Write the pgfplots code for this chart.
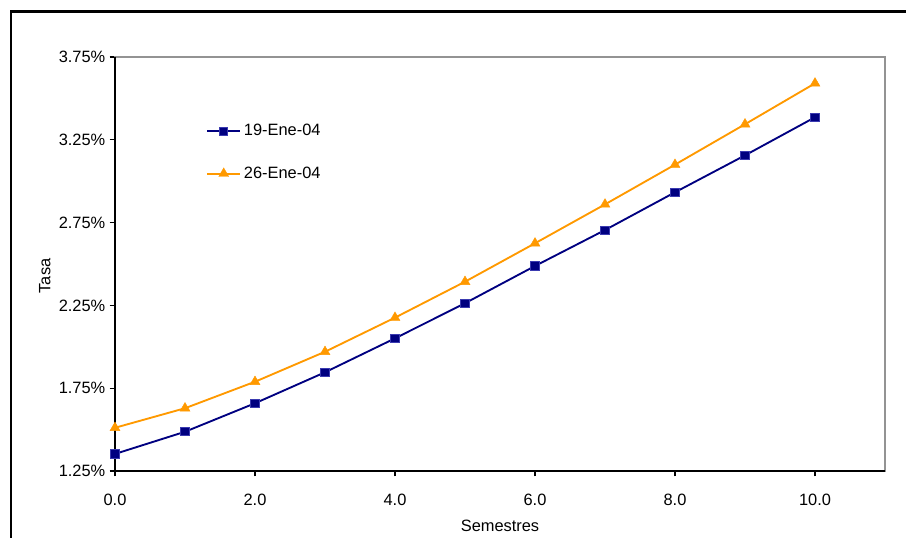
\documentclass[border=0pt]{standalone}
\usepackage{pgfplots}
\pgfplotsset{compat=1.18}
\usepackage{fontspec}
\setmainfont{Liberation Sans}
\definecolor{serieA}{HTML}{000080}
\definecolor{serieAedge}{HTML}{3A3AB0}
\definecolor{serieB}{HTML}{FF9900}

\pgfplotstableread{
x   y
0   1.353
1   1.487
2   1.659
3   1.846
4   2.051
5   2.263
6   2.488
7   2.705
8   2.933
9   3.156
10  3.386
}\tasaA

\pgfplotstableread{
x   y
0   1.511
1   1.629
2   1.789
3   1.970
4   2.176
5   2.393
6   2.625
7   2.860
8   3.100
9   3.344
10  3.591
}\tasaB

\begin{document}
\fontsize{12.3pt}{14pt}\selectfont
\begin{tikzpicture}[x=0.75pt,y=0.75pt]
\useasboundingbox (0,0) rectangle (906,538);
% outer chart frame
\draw[line width=1.6pt,black] (11,0) -- (11,526.5) -- (906,526.5);
\begin{axis}[
  at={(86.25pt,50.25pt)}, anchor=south west,
  scale only axis, width=577.5pt, height=310.5pt,
  xmin=0, xmax=11, ymin=1.25, ymax=3.75,
  xtick={0,2,...,10}, ytick={1.25,1.75,...,3.75},
  xtick pos=bottom, ytick pos=left,
  tick align=outside, major tick length=4pt,
  tick style={black, line width=1pt},
  axis line style={draw=gray!85, line width=1.1pt},
  /pgf/number format/assume math mode=true,
  xticklabel={\pgfmathprintnumber[fixed,fixed zerofill,precision=1]{\tick}},
  yticklabel={\pgfmathprintnumber[fixed,fixed zerofill,precision=2]{\tick}\%},
  xticklabel style={yshift=-9pt},
  yticklabel style={xshift=1pt},
  xlabel={Semestres}, ylabel={Tasa},
  xlabel style={at={(axis description cs:0.5,0)}, anchor=center, yshift=-41.5pt},
  ylabel style={at={(axis description cs:-0.091,0.471)}, anchor=center},
  legend style={draw=none, fill=none, at={(axis description cs:0.118,0.845)},
    anchor=north west, inner xsep=0pt, inner ysep=0pt, row sep=17.5pt,
    cells={anchor=west}, font=\fontsize{12.3pt}{14pt}\selectfont},
  legend image code/.code={%
    \draw[mark repeat=2,mark phase=2,#1] plot coordinates {(0pt,0pt) (12.5pt,0pt) (25pt,0pt)};},
  clip=false,
]
\addplot[serieA, line width=1.4pt, mark=square*, mark size=3.1pt,
  mark options={fill=serieA, draw=serieAedge, line width=0.6pt}] table[x=x,y=y] {\tasaA};
\addlegendentry{19-Ene-04}
\addplot[serieB, line width=1.4pt, mark=triangle*, mark size=4.3pt,
  mark options={fill=serieB, draw=serieB, line width=0.3pt}] table[x=x,y=y] {\tasaB};
\addlegendentry{26-Ene-04}
% axes drawn in black on the left and bottom
\draw[black, line width=1.5pt] (rel axis cs:0,1) -- (rel axis cs:0,0) -- (rel axis cs:1,0);
\end{axis}
\end{tikzpicture}
\end{document}
